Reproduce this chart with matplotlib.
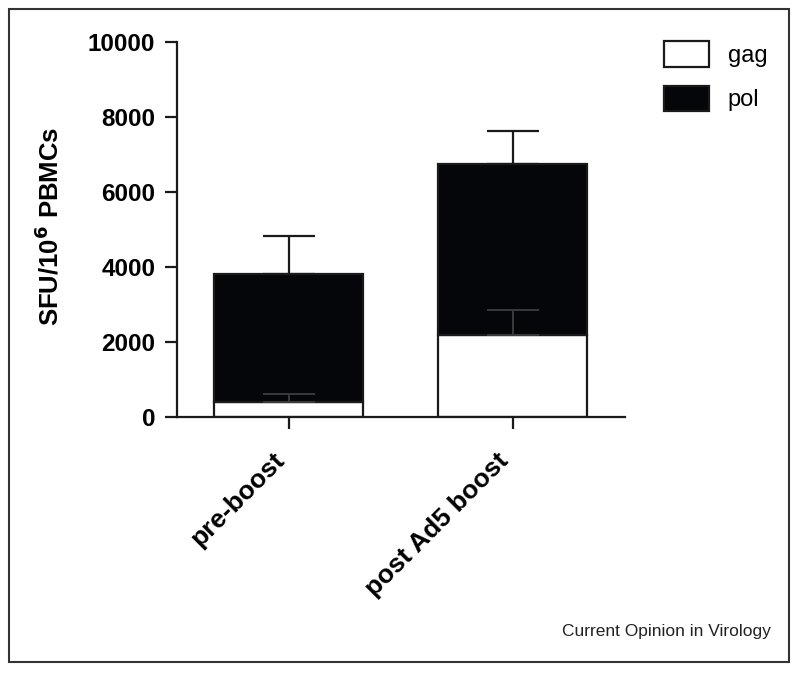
import matplotlib.pyplot as plt
from matplotlib.patches import Rectangle

# ===============================
# Data
# ===============================
groups = ["pre-boost", "post Ad5 boost"]
gag = [400, 2200]
gag_err = [225, 670]
pol = [3430, 4550]
total_err = [1000, 890]

plt.rcParams["font.family"] = ["Liberation Sans", "DejaVu Sans"]

fig = plt.figure(figsize=(8.0, 6.74), dpi=100)
ax = fig.add_axes([0.221, 0.381, 0.56, 0.556])

x = list(range(len(groups)))
width = 0.665
lw = 1.6

# bars
ax.bar(x, gag, width, color="white", edgecolor="#1a1a1a", linewidth=lw,
       label="gag", zorder=2)
ax.bar(x, pol, width, bottom=gag, color="#05060a", edgecolor="#1a1a1a",
       linewidth=lw, label="pol", zorder=2)

# error bars (upper only)
totals = [g + p for g, p in zip(gag, pol)]
ax.errorbar(x, totals, yerr=[[0, 0], total_err], fmt="none",
            ecolor="#1a1a1a", elinewidth=lw, capsize=19, capthick=lw, zorder=3)
ax.errorbar(x, gag, yerr=[[0, 0], gag_err], fmt="none",
            ecolor="#3a3a3a", elinewidth=1.4, capsize=19, capthick=1.4, zorder=3)

# axes styling
ax.set_xlim(-0.5, 1.5)
ax.set_ylim(0, 10000)
ax.set_yticks([0, 2000, 4000, 6000, 8000, 10000])
ax.set_xticks(x)
ax.set_xticklabels([])
for lab in ax.get_yticklabels():
    lab.set_fontsize(17.5)
    lab.set_fontweight("bold")

# rotated category labels
for i, name in enumerate(groups):
    ax.annotate(name, xy=(i, 0), xycoords=("data", "axes fraction"),
                xytext=(-6, -28.5), textcoords="offset points",
                rotation=45, ha="right", va="center", rotation_mode="anchor",
                fontsize=19, fontweight="bold", annotation_clip=False)

for side in ["top", "right"]:
    ax.spines[side].set_visible(False)
for side in ["left", "bottom"]:
    ax.spines[side].set_linewidth(lw)
    ax.spines[side].set_color("#1a1a1a")
ax.tick_params(axis="both", direction="out", length=8.5, width=lw,
               color="#1a1a1a")
ax.tick_params(axis="y", pad=7)

ax.set_ylabel("SFU/10$^\\mathbf{6}$ PBMCs", fontsize=18.5, fontweight="bold")
ax.yaxis.set_label_coords(-0.252, 0.51)

# legend
leg = ax.legend(loc="upper left", bbox_to_anchor=(664 / 800, 1 - 41 / 674),
                bbox_transform=fig.transFigure, frameon=False,
                fontsize=17, handlelength=1.9, handleheight=1.3,
                labelspacing=0.8, handletextpad=0.8,
                borderpad=0, borderaxespad=0)

# source text
fig.text(0.963, 0.063, "Current Opinion in Virology", ha="right",
         va="center", fontsize=12.5, color="#222222")

# outer frame
fig.patches.append(Rectangle((0.011, 0.018), 0.975, 0.968, fill=False,
                             edgecolor="#333333", linewidth=1.5,
                             transform=fig.transFigure, figure=fig))

plt.savefig("out.png", dpi=100)
